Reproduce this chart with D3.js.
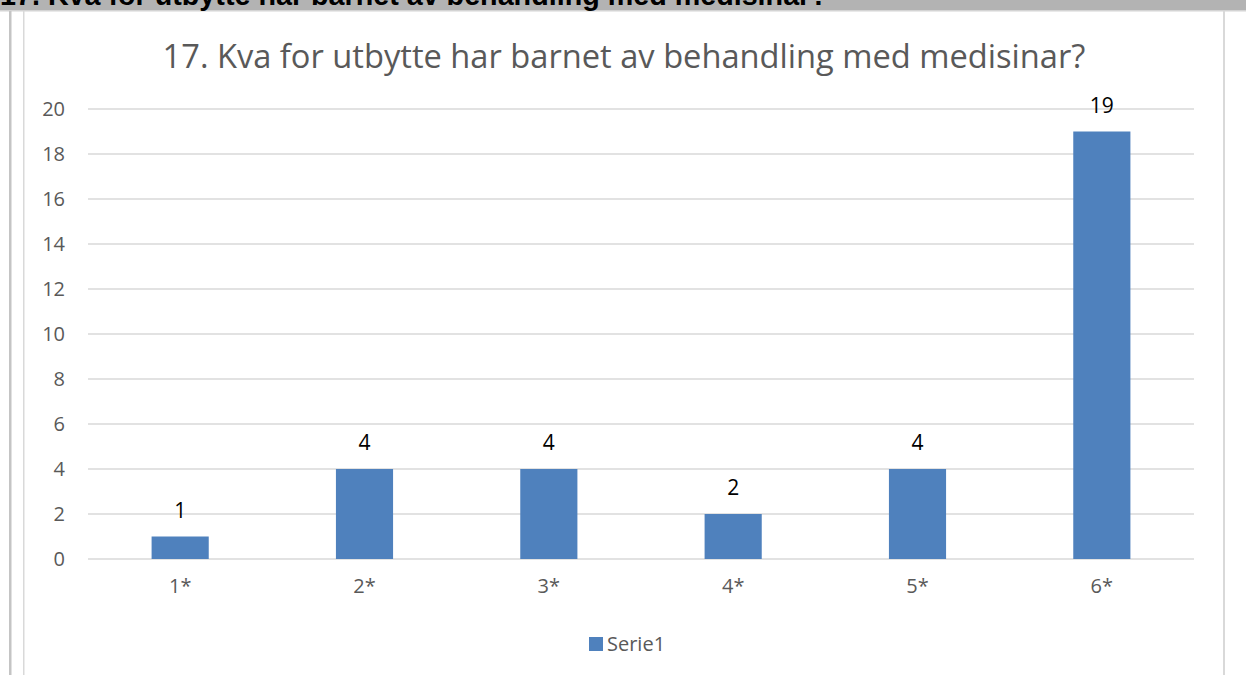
<!DOCTYPE html>
<html lang="no">
<head>
<meta charset="UTF-8">
<title>17. Kva for utbytte har barnet av behandling med medisinar?</title>
<script src="https://cdn.jsdelivr.net/npm/d3@7/dist/d3.min.js"></script>
<style>
    html, body { margin: 0; padding: 0; background: #fff; overflow: hidden; }
    svg { display: block; font-family: "Open Sans", "Noto Sans", sans-serif; }
</style>
</head>
<body>
<div id="chart"></div>
<script>
    // ---- data ----
    const categories = ["1*", "2*", "3*", "4*", "5*", "6*"];
    const values = [1, 4, 4, 2, 4, 19];
    const yTicks = [0, 2, 4, 6, 8, 10, 12, 14, 16, 18, 20];
    const seriesName = "Serie1";
    const title = "17. Kva for utbytte har barnet av behandling med medisinar?";

    const width = 1246, height = 675;
    const plot = { left: 88, right: 1194, top: 109, bottom: 559 };

    const svg = d3.select("#chart").append("svg")
        .attr("width", width).attr("height", height);

    // header band (question heading of the document, cut off at the top)
    svg.append("rect").attr("x", 0).attr("y", 0).attr("width", width).attr("height", 10)
        .attr("fill", "#b3b3b3");
    svg.append("rect").attr("x", 0).attr("y", 10).attr("width", width).attr("height", 1.5)
        .attr("fill", "#d4d4d4");
    const head = svg.append("text")
        .attr("x", 0).attr("y", 5)
        .attr("font-family", "Liberation Sans, Arial, sans-serif")
        .attr("font-weight", "bold").attr("font-size", 24)
        .attr("fill", "#000")
        .text(title);
    fitWidth(head, 828);

    // document frame lines
    svg.append("rect").attr("x", 9).attr("y", 11).attr("width", 2.5).attr("height", height)
        .attr("fill", "#c4c4c4");
    svg.append("rect").attr("x", 23).attr("y", 11).attr("width", 1.5).attr("height", height)
        .attr("fill", "#d9d9d9");
    svg.append("rect").attr("x", 1223).attr("y", 11).attr("width", 2).attr("height", height)
        .attr("fill", "#d9d9d9");

    // ---- scales ----
    const x = d3.scaleBand().domain(categories)
        .range([plot.left, plot.right]).paddingInner(0.69).paddingOuter(0.345);
    const y = d3.scaleLinear().domain([0, 20]).range([plot.bottom, plot.top]);

    // gridlines
    svg.append("g").selectAll("line").data(yTicks).join("line")
        .attr("x1", plot.left).attr("x2", plot.right)
        .attr("y1", d => y(d)).attr("y2", d => y(d))
        .attr("stroke", "#d9d9d9").attr("stroke-width", 1.6);

    // y axis labels
    const yAxis = svg.append("g")
        .attr("transform", `translate(${plot.left - 23},0)`)
        .call(d3.axisLeft(y).tickValues(yTicks).tickSize(0).tickPadding(0));
    yAxis.select(".domain").remove();
    yAxis.selectAll("text").attr("font-size", 20).attr("fill", "#595959")
        .attr("font-family", "Open Sans, sans-serif");

    // x axis labels
    const xAxis = svg.append("g")
        .attr("transform", `translate(0,${plot.bottom + 20})`)
        .call(d3.axisBottom(x).tickSize(0).tickPadding(0));
    xAxis.select(".domain").remove();
    xAxis.selectAll("text").attr("font-size", 20).attr("fill", "#595959")
        .attr("font-family", "Open Sans, sans-serif");

    // bars
    svg.append("g").selectAll("rect").data(values).join("rect")
        .attr("x", (d, i) => x(categories[i]))
        .attr("y", d => y(d))
        .attr("width", x.bandwidth())
        .attr("height", d => y(0) - y(d))
        .attr("fill", "#4f81bd");

    // data labels
    svg.append("g").selectAll("text").data(values).join("text")
        .attr("x", (d, i) => x(categories[i]) + x.bandwidth() / 2)
        .attr("y", d => y(d) - 19)
        .attr("text-anchor", "middle")
        .attr("font-size", 21).attr("fill", "#000")
        .text(d => d);

    // chart title
    const t = svg.append("text")
        .attr("x", 624).attr("y", 68)
        .attr("text-anchor", "middle")
        .attr("font-size", 30).attr("fill", "#595959")
        .text(title);
    fitWidth(t, 923);

    // legend
    svg.append("rect").attr("x", 589).attr("y", 637).attr("width", 14).attr("height", 14)
        .attr("fill", "#4f81bd");
    svg.append("text").attr("x", 607).attr("y", 651)
        .attr("font-size", 20).attr("fill", "#595959")
        .text(seriesName);

    function fitWidth(sel, target) {
        const w = sel.node().getComputedTextLength();
        const fs = +sel.attr("font-size");
        sel.attr("font-size", (fs * target / w).toFixed(2));
    }
</script>
</body>
</html>
